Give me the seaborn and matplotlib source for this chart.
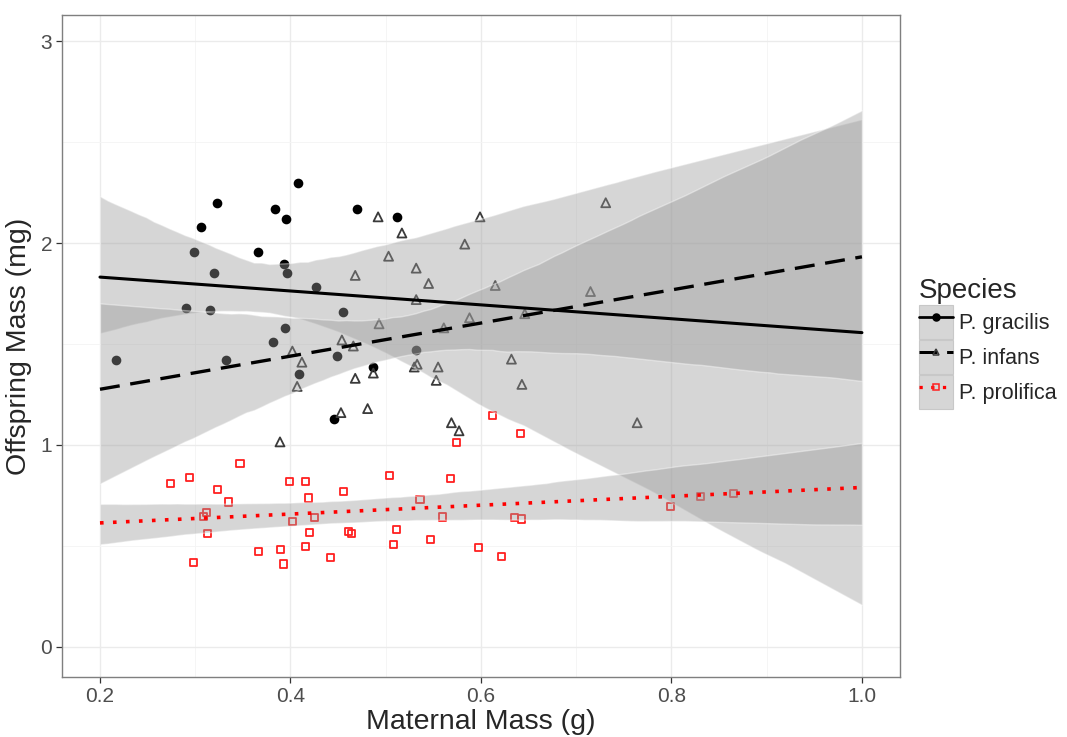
import numpy as np
import pandas as pd
import matplotlib
matplotlib.use("Agg")
import matplotlib.pyplot as plt
import seaborn as sns
from matplotlib.lines import Line2D
from matplotlib.patches import Patch
from matplotlib.legend_handler import HandlerTuple

# ===================== DATA =====================
gracilis_x = [0.217, 0.306, 0.323, 0.299, 0.320, 0.290, 0.315, 0.332, 0.384, 0.395,
              0.366, 0.393, 0.396, 0.427, 0.394, 0.382, 0.409, 0.408, 0.455, 0.446,
              0.470, 0.512, 0.449, 0.487, 0.532]
gracilis_y = [1.42, 2.08, 2.20, 1.955, 1.85, 1.68, 1.67, 1.42, 2.17, 2.12,
              1.955, 1.896, 1.85, 1.78, 1.58, 1.51, 1.35, 2.297, 1.66, 1.13,
              2.17, 2.13, 1.44, 1.386, 1.47]

infans_x = [0.468, 0.454, 0.402, 0.412, 0.468, 0.407, 0.453, 0.389, 0.466, 0.492,
            0.599, 0.517, 0.583, 0.503, 0.532, 0.545, 0.615, 0.715, 0.532, 0.588,
            0.646, 0.493, 0.561, 0.533, 0.530, 0.555, 0.487, 0.632, 0.553, 0.643,
            0.481, 0.569, 0.577, 0.731, 0.764]
infans_y = [1.84, 1.52, 1.465, 1.41, 1.33, 1.29, 1.16, 1.015, 1.49, 2.13,
            2.13, 2.05, 1.995, 1.935, 1.876, 1.80, 1.79, 1.76, 1.72, 1.63,
            1.65, 1.60, 1.58, 1.40, 1.386, 1.386, 1.356, 1.425, 1.32, 1.30,
            1.18, 1.11, 1.07, 2.20, 1.11]

prolifica_x = [0.347, 0.274, 0.294, 0.323, 0.335, 0.312, 0.309, 0.313, 0.298, 0.399,
               0.416, 0.419, 0.402, 0.425, 0.420, 0.416, 0.390, 0.366, 0.393, 0.456,
               0.461, 0.464, 0.442, 0.504, 0.511, 0.508, 0.612, 0.642, 0.574, 0.568,
               0.536, 0.560, 0.635, 0.643, 0.547, 0.597, 0.622, 0.799, 0.831, 0.865]
prolifica_y = [0.91, 0.807, 0.837, 0.777, 0.717, 0.663, 0.644, 0.56, 0.416, 0.82,
               0.82, 0.737, 0.62, 0.64, 0.565, 0.495, 0.48, 0.47, 0.41, 0.767,
               0.57, 0.56, 0.44, 0.85, 0.58, 0.505, 1.145, 1.055, 1.01, 0.833,
               0.728, 0.643, 0.64, 0.633, 0.53, 0.49, 0.445, 0.693, 0.743, 0.757]

species = ["P. gracilis", "P. infans", "P. prolifica"]
x_ticks = [0.2, 0.4, 0.6, 0.8, 1.0]
y_ticks = [0, 1, 2, 3]

df = pd.DataFrame({
    "maternal": gracilis_x + infans_x + prolifica_x,
    "offspring": gracilis_y + infans_y + prolifica_y,
    "species": [species[0]] * len(gracilis_x) + [species[1]] * len(infans_x)
               + [species[2]] * len(prolifica_x),
})

# style per species: point colour, marker, face, line style
pt_col   = {"P. gracilis": "black", "P. infans": "#3a3a3a", "P. prolifica": "#ff2020"}
markers  = {"P. gracilis": "o", "P. infans": "^", "P. prolifica": "s"}
faces    = {"P. gracilis": "black", "P. infans": "none", "P. prolifica": "none"}
sizes    = {"P. gracilis": 32, "P. infans": 42, "P. prolifica": 26}
line_col = {"P. gracilis": "black", "P. infans": "black", "P. prolifica": "#ff0000"}
line_ls  = {"P. gracilis": "-", "P. infans": (0, (6, 3.2)), "P. prolifica": (0, (1, 2.6))}
line_lw  = {"P. gracilis": 2.2, "P. infans": 2.4, "P. prolifica": 2.6}

sns.set_theme(style="white")
plt.rcParams["font.family"] = ["Liberation Sans", "DejaVu Sans"]

fig = plt.figure(figsize=(10.67, 7.37), dpi=100)
ax = fig.add_axes([0.058, 0.0814, 0.7855, 0.8982])

# ===================== POINTS =====================
for sp in species:
    sub = df[df["species"] == sp]
    sns.scatterplot(data=sub, x="maternal", y="offspring", ax=ax,
                    marker=markers[sp], s=sizes[sp], facecolor=faces[sp],
                    edgecolor=pt_col[sp], linewidth=1.3, legend=False, zorder=2)

# ===================== FITS (full range 0.2 - 1.0) =====================
ax.set_xlim(0.2, 1.0)
for sp in species:
    sub = df[df["species"] == sp]
    n_before = len(ax.collections)
    sns.regplot(data=sub, x="maternal", y="offspring", ax=ax, scatter=False,
                truncate=False, seed=1, color=line_col[sp],
                line_kws={"linestyle": line_ls[sp], "lw": line_lw[sp], "zorder": 4})
    for coll in ax.collections[n_before:]:
        coll.set_facecolor("#999999")
        coll.set_alpha(0.4)
        coll.set_zorder(3)

ax.set_xlim(0.16, 1.04)
ax.set_ylim(-0.15, 3.13)

# ===================== AXES STYLE =====================
ax.set_xticks(x_ticks)
ax.set_xticklabels(["0.2", "0.4", "0.6", "0.8", "1.0"])
ax.set_yticks(y_ticks)
ax.set_xticks([0.3, 0.5, 0.7, 0.9], minor=True)
ax.set_yticks([0.5, 1.5, 2.5], minor=True)
ax.grid(True, which="major", color="#ebebeb", lw=1.0, zorder=0)
ax.grid(True, which="minor", color="#f4f4f4", lw=0.6, zorder=0)
ax.set_axisbelow(True)
for s in ax.spines.values():
    s.set_color("#7f7f7f")
    s.set_linewidth(1.0)
ax.tick_params(which="major", direction="out", length=4, width=0.9, color="#333333",
               labelsize=15, labelcolor="#4d4d4d", bottom=True, left=True, pad=3)
ax.tick_params(which="minor", length=0)
ax.set_xlabel("Maternal Mass (g)", fontsize=20.5, labelpad=2)
ax.set_ylabel("Offspring Mass (mg)", fontsize=20.5, labelpad=6)

# ===================== LEGEND =====================
handles = []
for sp in species:
    bg = Patch(facecolor="#d6d6d6", edgecolor="#c8c8c8", lw=0.8)
    ln = Line2D([], [], color=line_col[sp], linestyle=line_ls[sp], lw=line_lw[sp] * 0.9,
                marker=markers[sp], markersize=5, markerfacecolor=faces[sp],
                markeredgecolor=pt_col[sp], markeredgewidth=1.1)
    handles.append((bg, ln))
leg = fig.legend(handles, species, handler_map={tuple: HandlerTuple(ndivide=1, pad=0)},
                 loc="upper left", bbox_to_anchor=(0.853, 0.635), frameon=False,
                 fontsize=15.5, title="Species", title_fontsize=20,
                 handlelength=1.6, handleheight=2.0, labelspacing=0.08,
                 handletextpad=0.25, borderaxespad=0)
leg._legend_box.align = "left"

fig.savefig("out.png", dpi=100)
